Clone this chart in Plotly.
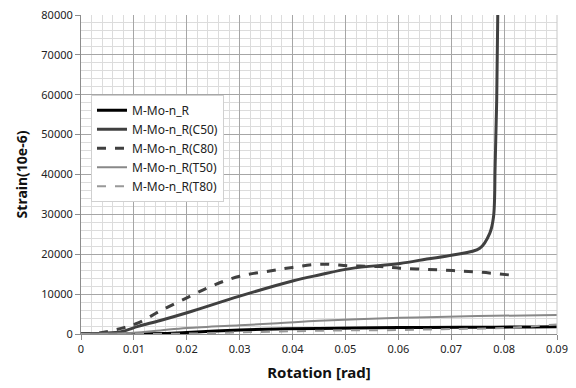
import plotly.graph_objects as go

# Data
r_x = [0, 0.010, 0.015, 0.020, 0.030, 0.037, 0.045, 0.060, 0.065, 0.075, 0.085, 0.090]
r_y = [0, 0, 100, 400, 1000, 1250, 1400, 1600, 1650, 1700, 1750, 1800]

c50_x = [0, 0.004, 0.0076, 0.0108, 0.015, 0.0202, 0.030, 0.040, 0.045, 0.0509,
         0.0603, 0.0654, 0.0703, 0.0754, 0.0773, 0.078, 0.0783, 0.0786, 0.0788]
c50_y = [0, 200, 600, 1900, 3400, 5400, 9500, 13300, 14800, 16400,
         17700, 18800, 19800, 21500, 25300, 29400, 42000, 58700, 80000]

c80_x = [0, 0.004, 0.0076, 0.0108, 0.015, 0.0202, 0.025, 0.030, 0.0357, 0.040, 0.0452, 0.0509,
         0.0565, 0.0603, 0.0654, 0.0703, 0.0754, 0.0811]
c80_y = [0, 400, 1400, 2760, 5800, 9200, 12200, 14500, 15800, 16700, 17500, 17100,
         16900, 16500, 16200, 15900, 15500, 14800]

t50_x = [0, 0.005, 0.010, 0.015, 0.020, 0.030, 0.0372, 0.045, 0.0603, 0.0654, 0.075, 0.090]
t50_y = [0, 100, 300, 900, 1500, 2200, 2680, 3300, 4100, 4200, 4500, 4770]

t80_x = [0, 0.010, 0.020, 0.030, 0.040, 0.050, 0.060, 0.070, 0.080, 0.085, 0.090]
t80_y = [0, 0, 100, 400, 700, 900, 1000, 1250, 1500, 1900, 2400]

x_ticks = [0, 0.01, 0.02, 0.03, 0.04, 0.05, 0.06, 0.07, 0.08, 0.09]
x_tick_labels = ["0", "0.01", "0.02", "0.03", "0.04", "0.05", "0.06", "0.07", "0.08", "0.09"]

names = ["M-Mo-n_R", "M-Mo-n_R(C50)", "M-Mo-n_R(C80)", "M-Mo-n_R(T50)", "M-Mo-n_R(T80)"]

series = [
    (r_x, r_y, dict(color="#000000", width=3)),
    (c50_x, c50_y, dict(color="#404040", width=3)),
    (c80_x, c80_y, dict(color="#404040", width=3, dash="dash")),
    (t50_x, t50_y, dict(color="#888888", width=2)),
    (t80_x, t80_y, dict(color="#999999", width=2, dash="dash")),
]

fig = go.Figure()
for i, (xs, ys, ln) in enumerate(series):
    fig.add_trace(go.Scatter(x=xs, y=ys, mode="lines", name=names[i], line=ln,
                             legendrank=i + 1, line_shape="spline"))

font_main = "Noto Sans, Open Sans, sans-serif"

fig.update_layout(
    width=576, height=388,
    margin=dict(l=81, r=19, t=15, b=54, autoexpand=False),
    paper_bgcolor="white", plot_bgcolor="white",
    font=dict(family=font_main, size=11, color="#222222"),
    showlegend=True,
    legend=dict(x=0.021, y=0.75, xanchor="left", yanchor="top",
                bgcolor="white", bordercolor="#d0d0d0", borderwidth=1,
                font=dict(size=12, color="#222222"),
                tracegroupgap=0, itemwidth=30),
    xaxis=dict(
        range=[0, 0.09], automargin=False,
        tickmode="array", tickvals=x_ticks, ticktext=x_tick_labels,
        tickangle=0,
        showgrid=True, gridcolor="#a6a6a6", gridwidth=1,
        minor=dict(dtick=0.002, tick0=0, showgrid=True, gridcolor="#dcdcdc", gridwidth=1),
        showline=True, linecolor="#8c8c8c", linewidth=1,
        ticks="outside", ticklen=5, tickcolor="#8c8c8c",
        zeroline=False, mirror=False,
        title=dict(text="<b>Rotation [rad]</b>", font=dict(size=15, color="#111111"), standoff=12),
        tickfont=dict(size=11),
    ),
    yaxis=dict(
        range=[0, 80000], dtick=10000, tick0=0, automargin=False,
        tickformat="d",
        showgrid=True, gridcolor="#a6a6a6", gridwidth=1,
        minor=dict(dtick=2000, showgrid=True, gridcolor="#dcdcdc", gridwidth=1),
        showline=True, linecolor="#8c8c8c", linewidth=1,
        ticks="outside", ticklen=5, tickcolor="#8c8c8c",
        zeroline=False,
        title=dict(text="<b>Strain(10e-6)</b>", font=dict(size=14, color="#111111"), standoff=10),
        tickfont=dict(size=11),
    ),
)

# right border of the plot area
fig.add_shape(type="line", xref="paper", yref="paper", x0=1, x1=1, y0=0, y1=1,
              line=dict(color="#c8c8c8", width=1))

fig.write_html("out.html")
